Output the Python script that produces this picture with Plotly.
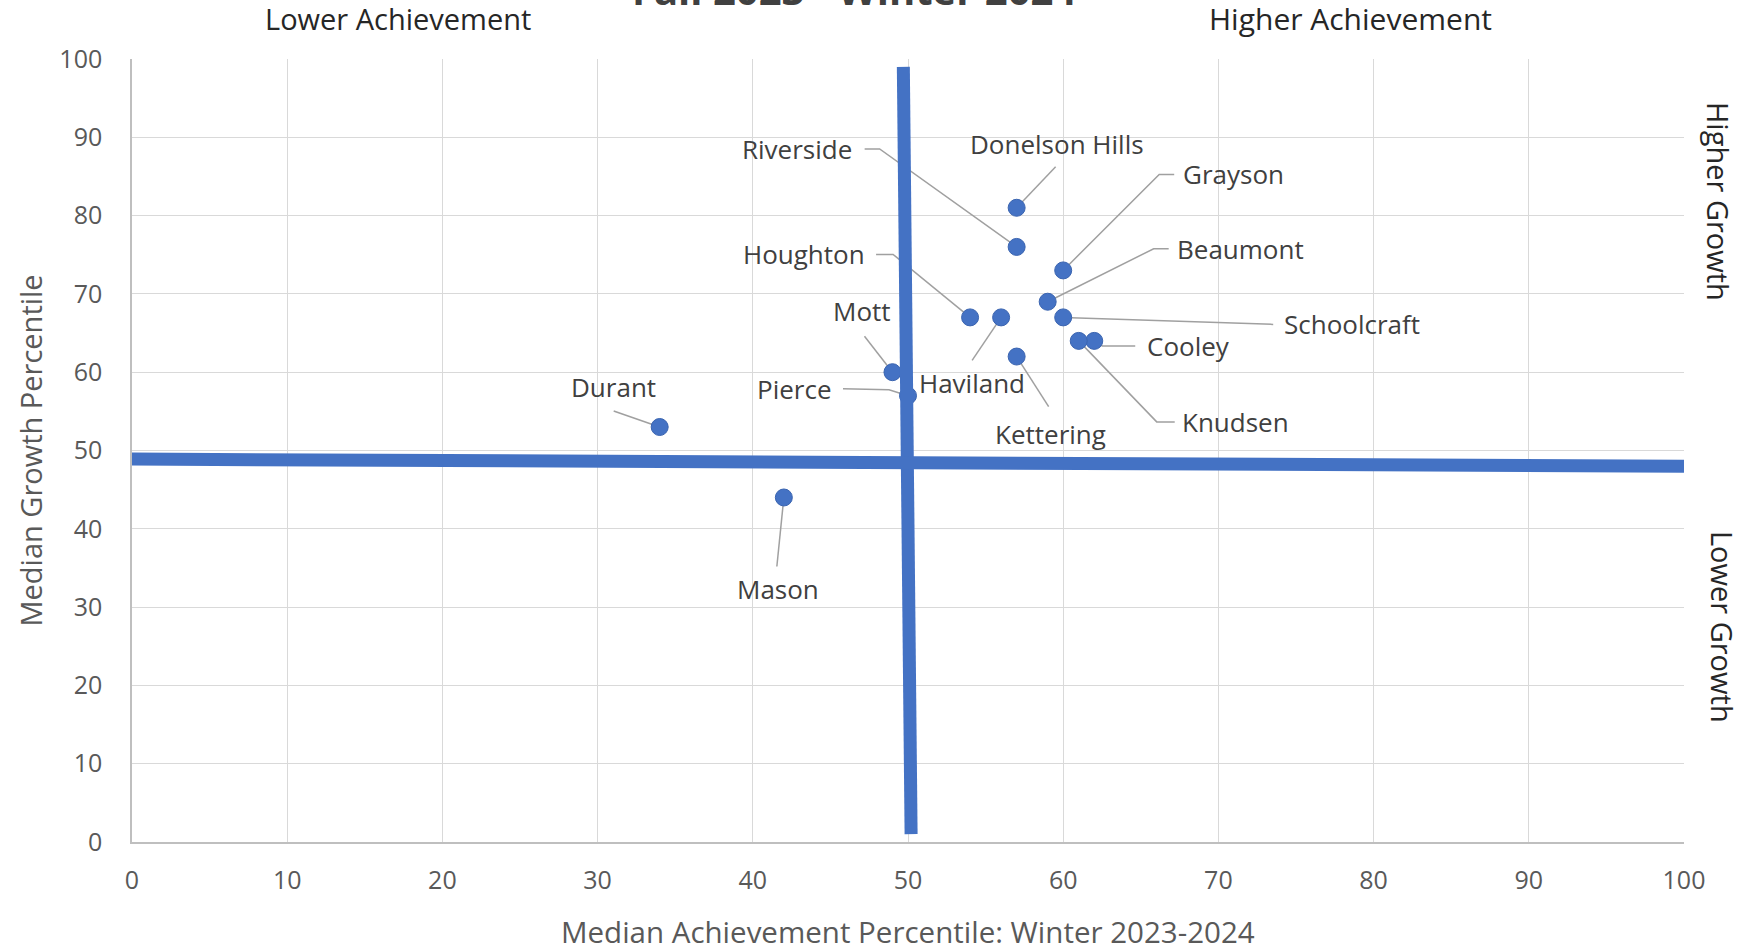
import plotly.graph_objects as go

# School medians
schools = ["Donelson Hills", "Riverside", "Grayson", "Beaumont", "Schoolcraft",
           "Cooley", "Knudsen", "Kettering", "Haviland", "Houghton", "Mott",
           "Pierce", "Durant", "Mason"]
achievement = [57, 57, 60, 59, 60, 62, 61, 57, 56, 54, 49, 50, 34, 42]
growth = [81, 76, 73, 69, 67, 64, 64, 62, 67, 67, 60, 57, 53, 44]

# Quadrant divider lines
vline_x = [49.7, 50.2]
vline_y = [99, 1]
hline_x = [0, 100]
hline_y = [48.9, 48.0]

tick_vals = [0, 10, 20, 30, 40, 50, 60, 70, 80, 90, 100]

# Label layout, in screen pixels relative to each point (y grows downward):
# label centre, then the leader-line vertices running back to the point.
label_layout = {
    "Donelson Hills": ((40, -64), [(39, -41)]),
    "Riverside": ((-220, -98), [(-152, -98), (-137, -98)]),
    "Grayson": ((170, -96), [(111, -96), (96, -96)]),
    "Beaumont": ((193, -53), [(121, -53), (106, -53)]),
    "Schoolcraft": ((289, 7), [(210, 7)]),
    "Cooley": ((94, 5), [(41, 5), (8, 5)]),
    "Knudsen": ((157, 81), [(96, 81), (78, 81)]),
    "Kettering": ((34, 77), [(32, 50)]),
    "Haviland": ((-29, 66), [(-29, 43)]),
    "Houghton": ((-166, -63), [(-94, -63), (-77, -63)]),
    "Mott": ((-30, -61), [(-28, -36)]),
    "Pierce": ((-114, -7), [(-65, -7), (-19, -6)]),
    "Durant": ((-46, -40), [(-46, -16)]),
    "Mason": ((-6, 92), [(-7, 69)]),
}

BLUE = "#4472C4"
LEADER = "#A0A0A0"
FONT = "Open Sans"

fig = go.Figure()

fig.add_trace(go.Scatter(
    x=achievement, y=growth, mode="markers",
    marker=dict(size=17, color=BLUE, line=dict(color="#3A64B0", width=1)),
    hoverinfo="text", text=schools, showlegend=False,
))
fig.add_trace(go.Scatter(
    x=vline_x, y=vline_y, mode="lines",
    line=dict(color=BLUE, width=13), hoverinfo="skip", showlegend=False,
))
fig.add_trace(go.Scatter(
    x=hline_x, y=hline_y, mode="lines",
    line=dict(color=BLUE, width=13), hoverinfo="skip", showlegend=False,
))

annotations = []
shapes = []
for name, xv, yv in zip(schools, achievement, growth):
    (tx, ty), knees = label_layout[name]
    annotations.append(dict(
        x=xv, y=yv, xref="x", yref="y", text=name, showarrow=False,
        xanchor="center", yanchor="middle", xshift=tx, yshift=-ty,
        font=dict(family=FONT, size=26, color="#404040"),
    ))
    pts = knees + [(0, 0)]
    path = "M " + " L ".join(f"{px} {-py}" for px, py in pts)
    shapes.append(dict(
        type="path", path=path, xref="x", yref="y",
        xsizemode="pixel", ysizemode="pixel", xanchor=xv, yanchor=yv,
        line=dict(color=LEADER, width=1.5), layer="between",
    ))


def paper_text(text, x, y, size, color, angle=0, yanchor="middle"):
    return dict(text=text, xref="paper", yref="paper", x=x, y=y,
                xanchor="center", yanchor=yanchor, showarrow=False,
                textangle=angle, font=dict(family=FONT, size=size, color=color))


# Chart title, quadrant captions and axis titles
annotations += [
    paper_text("<b>Fall 2023 - Winter 2024</b>", 0.4655, 1.0511, 40,
               "#404040", yanchor="bottom"),
    paper_text("Lower Achievement", 0.1714, 1.0512, 29, "#262626"),
    paper_text("Higher Achievement", 0.7848, 1.0512, 30, "#262626"),
    paper_text("Higher Growth", 1.0219, 0.8174, 29, "#262626", angle=90),
    paper_text("Lower Growth", 1.0245, 0.2746, 29, "#262626", angle=90),
    paper_text("Median Achievement Percentile: Winter 2023-2024", 0.5,
               -0.1137, 29.5, "#595959"),
    paper_text("Median Growth Percentile", -0.0657, 0.5, 29, "#595959",
               angle=-90),
]

axis_common = dict(
    range=[0, 100], tickvals=tick_vals, showgrid=True, gridcolor="#D9D9D9",
    gridwidth=1, zeroline=False, showline=True, linecolor="#BFBFBF",
    linewidth=1.5, mirror=False, ticks="",
    tickfont=dict(family=FONT, size=25, color="#595959"),
)

fig.update_layout(
    width=1748, height=951,
    margin=dict(l=132, r=64, t=59, b=109),
    paper_bgcolor="white", plot_bgcolor="white",
    xaxis=dict(**axis_common, ticklabelstandoff=15),
    yaxis=dict(**axis_common, ticklabelstandoff=23),
    annotations=annotations,
    shapes=shapes,
    showlegend=False,
)

fig.write_html("out.html")
